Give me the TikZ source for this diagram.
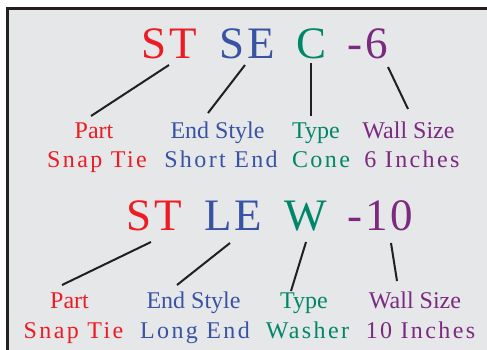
\documentclass[tikz,border=0pt]{standalone}
\usepackage{fontspec}
\setmainfont{Liberation Serif}
\newfontfamily\bigfont[LetterSpace=7]{Liberation Serif}
\newfontfamily\trackfont[LetterSpace=10]{Liberation Serif}
\definecolor{cred}{HTML}{ED1C24}
\definecolor{cblue}{HTML}{3953A4}
\definecolor{cgreen}{HTML}{00876A}
\definecolor{cpurple}{HTML}{7B2A80}
\definecolor{cbg}{HTML}{E6E7E8}
\definecolor{cborder}{HTML}{231F20}
\tikzset{
  code/.style={inner sep=0pt, anchor=base west, font=\fontsize{45}{50}\bigfont},
  lab/.style={inner sep=0pt, anchor=base, font=\fontsize{24}{28}\selectfont},
  tlab/.style={inner sep=0pt, anchor=base, font=\fontsize{24}{28}\trackfont},
  conn/.style={draw=cborder, line width=2pt}
}
\begin{document}
\begin{tikzpicture}[x=1pt,y=-1pt]
\useasboundingbox (0,0) rectangle (487,349);
\begin{scope}
\clip (0,0) rectangle (487,349);
\fill[white] (0,0) rectangle (487,349);
\draw[fill=cbg, draw=cborder, line width=2.5pt] (7.5,8.5) rectangle (495,360);
\end{scope}
% Row 1 code
\node[code, text=cred] (st1) at (141,58) {ST};
\node[code, text=cblue] (se1) at (219,58) {SE};
\node[code, text=cgreen] (c1) at (296,58) {C};
\node[code, text=cpurple] (w1) at (347,58) {-6};
% Row 1 labels
\node[lab, text=cred] (p1) at (94,138) {Part};
\node[lab, text=cblue] (e1) at (217.5,138) {End Style};
\node[lab, text=cgreen] (t1) at (316,138) {Type};
\node[lab, text=cpurple] (s1) at (408.5,138) {Wall Size};
\node[tlab, text=cred] (pv1) at (97,167) {Snap Tie};
\node[tlab, text=cblue] (ev1) at (221,167) {Short End};
\node[tlab, text=cgreen] (tv1) at (321,167) {Cone};
\node[tlab, text=cpurple] (sv1) at (412,167) {6 Inches};
% Row 1 connectors
\coordinate (a1) at (169,65); \coordinate (a2) at (91,116);
\coordinate (b1) at (245,65); \coordinate (b2) at (208,113);
\coordinate (c1a) at (311,63); \coordinate (c1b) at (311,116);
\coordinate (d1) at (388,67); \coordinate (d2) at (408,109);
\draw[conn] (a1) -- (a2);
\draw[conn] (b1) -- (b2);
\draw[conn] (c1a) -- (c1b);
\draw[conn] (d1) -- (d2);
% Row 2 code
\node[code, text=cred] (st2) at (126,230) {ST};
\node[code, text=cblue] (le2) at (204,230) {LE};
\node[code, text=cgreen] (w2) at (284,230) {W};
\node[code, text=cpurple] (n2) at (347,230) {-10};
% Row 2 labels
\node[lab, text=cred] (p2) at (69.5,308) {Part};
\node[lab, text=cblue] (e2) at (193.5,308) {End Style};
\node[lab, text=cgreen] (t2) at (304,308) {Type};
\node[lab, text=cpurple] (s2) at (415,308) {Wall Size};
\node[tlab, text=cred] (pv2) at (73.5,338) {Snap Tie};
\node[tlab, text=cblue] (ev2) at (195,338) {Long End};
\node[tlab, text=cgreen] (tv2) at (307.5,338) {Washer};
\node[tlab, text=cpurple] (sv2) at (420.5,338) {10 Inches};
% Row 2 connectors
\coordinate (f1) at (151,242); \coordinate (f2) at (62,285);
\coordinate (g1) at (230,243); \coordinate (g2) at (177,285);
\coordinate (h1) at (306,242); \coordinate (h2) at (291,291);
\coordinate (k1) at (391,243); \coordinate (k2) at (397,281);
\draw[conn] (f1) -- (f2);
\draw[conn] (g1) -- (g2);
\draw[conn] (h1) -- (h2);
\draw[conn] (k1) -- (k2);
\end{tikzpicture}
\end{document}
